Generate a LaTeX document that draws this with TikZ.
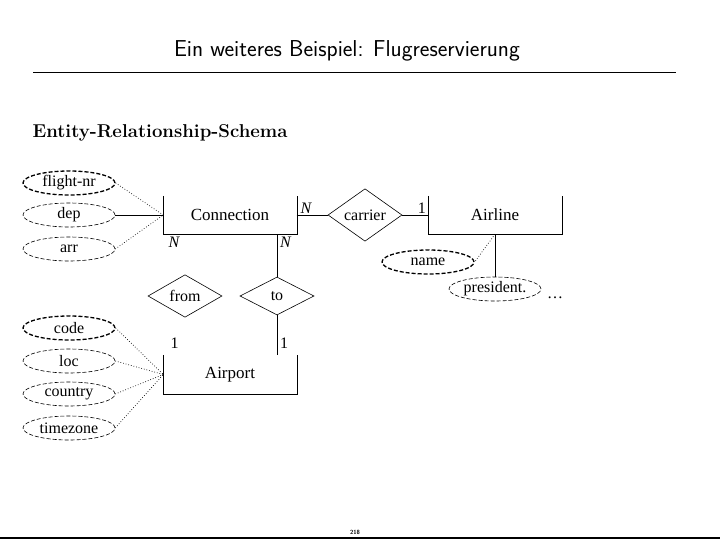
\documentclass[tikz,border=0pt]{standalone}
\usepackage{fontspec}
\newfontfamily\erfont{Liberation Serif}
\usetikzlibrary{shapes.geometric,positioning}

\begin{document}
\begin{tikzpicture}[x=1pt,y=-1pt,every node/.style={font=\erfont\fontsize{16}{19}\selectfont},entity/.style={minimum width=133pt,minimum height=38pt,inner sep=0pt,font=\erfont\fontsize{17}{20}\selectfont},attr/.style={ellipse,draw,dash pattern=on 4pt off 2pt,line width=0.6pt,minimum width=92pt,minimum height=24pt,inner sep=0pt},keyattr/.style={attr,line width=1.3pt},rel/.style={diamond,draw,line width=0.6pt,minimum width=74pt,minimum height=38pt,inner sep=0pt},link/.style={dotted,line width=0.7pt},card/.style={font=\erfont\itshape\fontsize{16}{19}\selectfont,inner sep=1pt},one/.style={card,font=\erfont\fontsize{16}{19}\selectfont}]
\useasboundingbox (0,0) rectangle (720,540);

% title and rules
\node[font=\sffamily\fontsize{23}{27}\selectfont] (title) at (347,51) {Ein weiteres Beispiel: Flugreservierung};
\draw[line width=0.8pt] (33,72) -- (676,72);
\node[font=\rmfamily\bfseries\fontsize{18.6}{22}\selectfont,anchor=base west] (sub) at (29,138) {Entity-Relationship-Schema};
\draw[line width=2.5pt] (0,538) -- (720,538);
\node[font=\sffamily\bfseries\fontsize{6}{7}\selectfont] (page) at (355,532) {218};

% entities
\node[entity] (conn) at (230,215) {Connection};
\node[entity] (airline) at (495,215) {Airline};
\node[entity,minimum height=39pt] (airport) at (230,374.5) {Airport};
\foreach \e in {conn,airline,airport}
  \draw (\e.north west) -- (\e.south west) -- (\e.south east) -- (\e.north east);

% relationships
\node[rel] (carrier) at (365,215) {carrier};
\node[rel] (rfrom) at (185,296) {from};
\node[rel] (rto) at (277,296) {to};

% attributes
\node[keyattr] (fnr) at (69,183) {flight-nr};
\node[attr] (dep) at (69,215) {dep};
\node[attr] (arr) at (69,249) {arr};
\node[keyattr] (name) at (428,262) {name};
\node[attr] (pres) at (495,289) {president.};
\node (more) at (555,298) {\dots};
\node[keyattr] (code) at (69,328) {code};
\node[attr] (loc) at (69,361) {loc};
\node[attr] (country) at (69,394) {country};
\node[attr] (tz) at (69,428) {timezone};

% connectors
\draw[link] (fnr.east) -- (conn.west);
\draw (dep.east) -- (conn.west);
\draw[link] (arr.east) -- (conn.west);
\foreach \a in {code,loc,country,tz}
  \draw[link] (\a.east) -- (airport.west);
\draw[link] (airline.south) -- (name.east);
\draw (pres.north |- airline.south) -- (pres.north);
\draw (conn.east) -- (carrier.west) node[card,pos=0.3,above] {N};
\draw (carrier.east) -- (airline.west) node[one,pos=0.75,above] {1};
\draw (rto.north |- conn.south) -- (rto.north) node[card,pos=0.2,right=2pt] {N};
\draw (rto.south) -- (rto.south |- airport.north) node[one,pos=0.7,right=2pt] {1};
\node[card,below right=2pt and 4pt of conn.south west] (nfrom) {N};
\node[one,above right=5pt and 6pt of airport.north west] (ofrom) {1};

\end{tikzpicture}
\end{document}
